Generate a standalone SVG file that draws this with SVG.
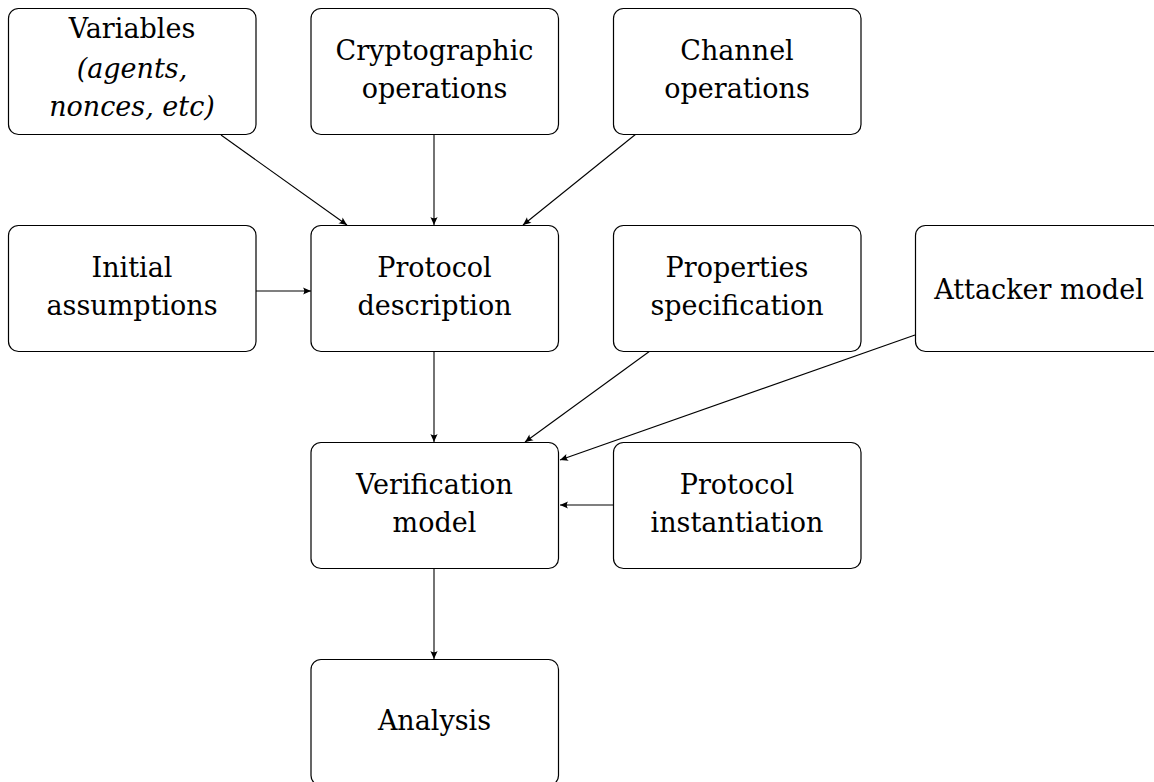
<svg xmlns="http://www.w3.org/2000/svg" width="1154" height="782" viewBox="0 0 1154 782">
<style>
.box{fill:#fff;stroke:#000;stroke-width:1.2}
.t{font-family:'DejaVu Serif','Liberation Serif',serif;font-size:27px;text-anchor:middle;fill:#000}
.i{font-style:italic}
.c{stroke:#000;stroke-width:1.1;fill:none;marker-end:url(#ah)}
</style>
<defs>
<marker id="ah" markerUnits="userSpaceOnUse" markerWidth="12" markerHeight="10" viewBox="-10 -5 12 10" refX="0" refY="0" orient="auto">
<path d="M0,0 L-8,-3.6 Q-5.5,0 -8,3.6 Z" fill="#000"/>
</marker>
</defs>
<rect width="1154" height="782" fill="#fff"/>
<g id="connectors">
<line class="c" x1="221" y1="135" x2="347" y2="225"/>
<line class="c" x1="434" y1="134" x2="434" y2="225"/>
<line class="c" x1="636" y1="134" x2="523" y2="225"/>
<line class="c" x1="256" y1="291" x2="311" y2="291"/>
<line class="c" x1="434" y1="351" x2="434" y2="442"/>
<line class="c" x1="650" y1="351" x2="525" y2="442"/>
<line class="c" x1="915" y1="335" x2="560" y2="460"/>
<line class="c" x1="613" y1="505" x2="560" y2="505"/>
<line class="c" x1="434" y1="568" x2="434" y2="659"/>
</g>
<g id="variables">
<rect class="box" x="8.5" y="8.5" width="247.5" height="126" rx="10"/>
<text class="t" x="132" y="38">Variables</text>
<text class="t i" x="132" y="78">(agents,</text>
<text class="t i" x="132" y="116">nonces, etc)</text>
</g>
<g id="crypto">
<rect class="box" x="311" y="8.5" width="247.5" height="126" rx="10"/>
<text class="t" x="434.5" y="60">Cryptographic</text>
<text class="t" x="434.5" y="98">operations</text>
</g>
<g id="channel">
<rect class="box" x="613.5" y="8.5" width="247.5" height="126" rx="10"/>
<text class="t" x="737" y="60">Channel</text>
<text class="t" x="737" y="98">operations</text>
</g>
<g id="initial">
<rect class="box" x="8.5" y="225.5" width="247.5" height="126" rx="10"/>
<text class="t" x="132" y="277">Initial</text>
<text class="t" x="132" y="315">assumptions</text>
</g>
<g id="protocol">
<rect class="box" x="311" y="225.5" width="247.5" height="126" rx="10"/>
<text class="t" x="434.5" y="277">Protocol</text>
<text class="t" x="434.5" y="315">description</text>
</g>
<g id="properties">
<rect class="box" x="613.5" y="225.5" width="247.5" height="126" rx="10"/>
<text class="t" x="737" y="277">Properties</text>
<text class="t" x="737" y="315">specification</text>
</g>
<g id="attacker">
<rect class="box" x="915.5" y="225.5" width="247.5" height="126" rx="10"/>
<text class="t" x="1039" y="299">Attacker model</text>
</g>
<g id="verification">
<rect class="box" x="311" y="442.5" width="247.5" height="126" rx="10"/>
<text class="t" x="434.5" y="494">Verification</text>
<text class="t" x="434.5" y="532">model</text>
</g>
<g id="instantiation">
<rect class="box" x="613.5" y="442.5" width="247.5" height="126" rx="10"/>
<text class="t" x="737" y="494">Protocol</text>
<text class="t" x="737" y="532">instantiation</text>
</g>
<g id="analysis">
<rect class="box" x="311" y="659.5" width="247.5" height="126" rx="10"/>
<text class="t" x="434.5" y="730">Analysis</text>
</g>
</svg>
